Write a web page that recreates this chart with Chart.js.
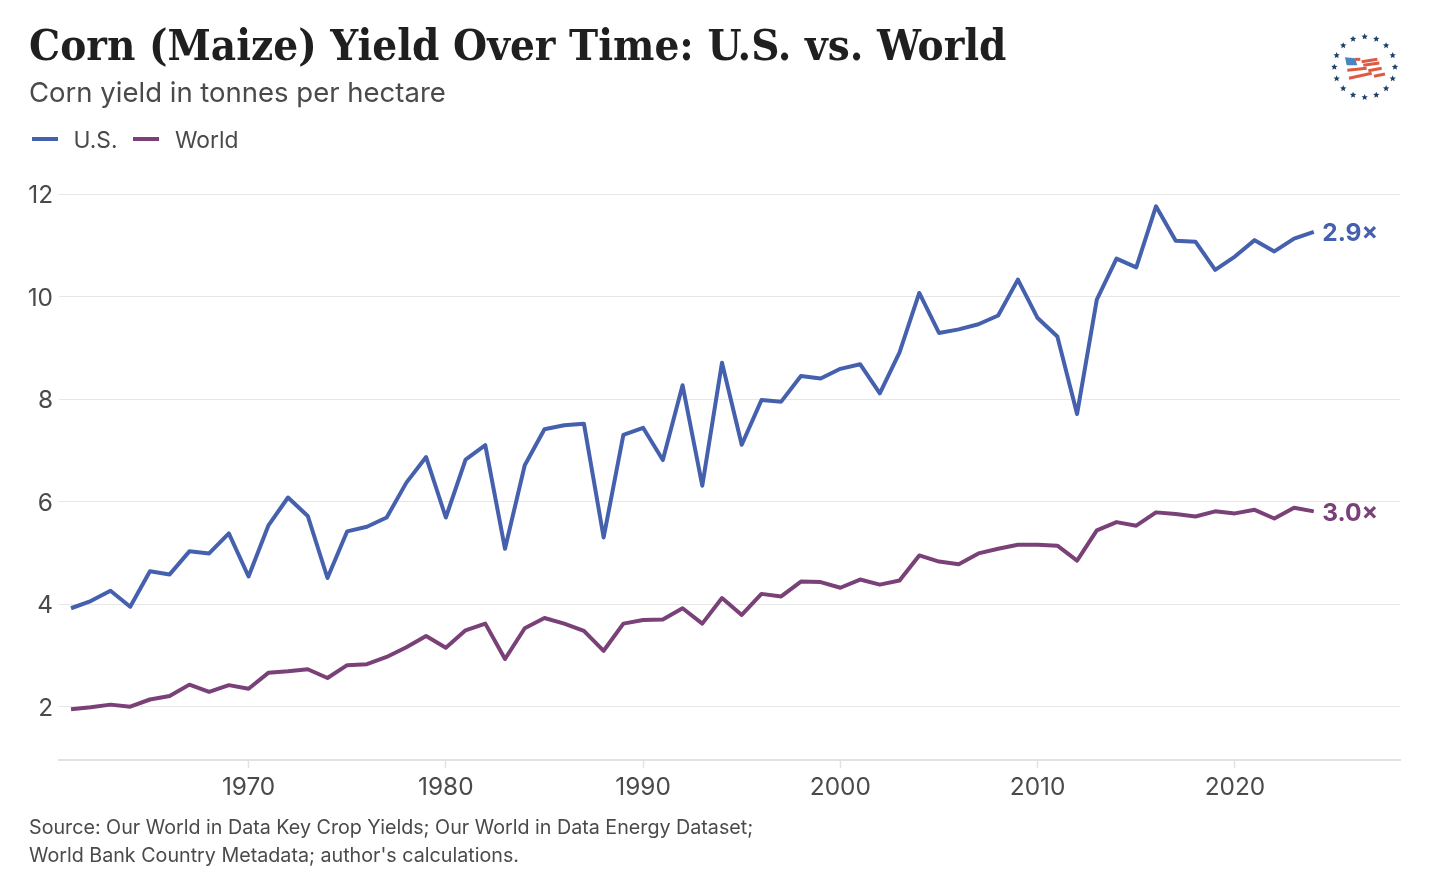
<!DOCTYPE html>
<html lang="en">
<head>
  <meta charset="UTF-8" />
  <title>Corn (Maize) Yield Over Time</title>
  <script src="https://cdn.jsdelivr.net/npm/chart.js"></script>
  <style>
    html, body { margin: 0; padding: 0; background: #fff; }
    body { width: 1429px; height: 885px; position: relative; overflow: hidden; font-family: Inter, sans-serif; color: #4a4a4a; }
    #chart { position: absolute; left: 0; top: 0; }
    .txt { position: absolute; white-space: nowrap; }
    #title { left: 29px; top: 18px; font: 700 43.5px/54px "DejaVu Serif Condensed", "DejaVu Serif", serif; font-stretch: condensed; color: #1f1f1f; }
    #subtitle { left: 29px; top: 75px; font-size: 27.5px; line-height: 35px; }
    #legend { left: 32px; top: 125.5px; font-size: 22.8px; line-height: 28px; display: flex; }
    #legend .item { display: flex; align-items: center; margin-right: 16px; }
    #legend .swatch { width: 26px; height: 4px; margin-right: 15.5px; position: relative; top: -1px; }
    #source { left: 29px; top: 813px; font-size: 19.7px; line-height: 28px; }
    #logo { position: absolute; left: 1300px; top: 20px; }
  </style>
</head>
<body>
  <canvas id="chart" width="1429" height="885"></canvas>
  <div class="txt" id="title">Corn (Maize) Yield Over Time: U.S. vs. World</div>
  <div class="txt" id="subtitle">Corn yield in tonnes per hectare</div>
  <div class="txt" id="legend"></div>
  <div class="txt" id="source">Source: Our World in Data Key Crop Yields; Our World in Data Energy Dataset;<br>World Bank Country Metadata; author's calculations.</div>
  <svg id="logo" width="129" height="100" viewBox="0 0 387 300">
    <polygon points="135,112 165,115 172,136 140,136" fill="#4a86bd"/>
    <g id="stripes" fill="none" stroke="#dd5a43" stroke-width="9">
      <polyline points="165,118 181,118"/>
      <polyline points="185,125 232,118"/>
      <polyline points="190,136 238,129"/>
      <polyline points="142,151 200,145"/>
      <polyline points="205,152 245,145"/>
      <polyline points="147,175 215,160"/>
      <polyline points="222,169 255,162"/>
    </g>
    <g id="stars" fill="#1c3f66"></g>
  </svg>

  <script>
    const years = [];
    for (let y = 1961; y <= 2024; y++) years.push(y);

    const usYield = [
      3.92, 4.06, 4.26, 3.95, 4.64, 4.58, 5.03, 4.99, 5.38, 4.54,
      5.53, 6.08, 5.72, 4.51, 5.42, 5.51, 5.69, 6.37, 6.87, 5.69,
      6.82, 7.10, 5.08, 6.71, 7.41, 7.49, 7.52, 5.30, 7.30, 7.44,
      6.81, 8.27, 6.31, 8.71, 7.11, 7.98, 7.95, 8.45, 8.40, 8.59,
      8.68, 8.11, 8.91, 10.07, 9.29, 9.36, 9.46, 9.63, 10.33, 9.58,
      9.22, 7.71, 9.94, 10.74, 10.57, 11.76, 11.09, 11.07, 10.52, 10.78,
      11.10, 10.88, 11.13, 11.26
    ];
    const worldYield = [
      1.95, 1.99, 2.04, 2.00, 2.14, 2.21, 2.43, 2.29, 2.42, 2.35,
      2.66, 2.69, 2.73, 2.56, 2.81, 2.83, 2.97, 3.16, 3.38, 3.15,
      3.49, 3.62, 2.93, 3.53, 3.73, 3.62, 3.48, 3.09, 3.62, 3.69,
      3.70, 3.92, 3.62, 4.12, 3.79, 4.20, 4.15, 4.44, 4.43, 4.32,
      4.48, 4.38, 4.46, 4.95, 4.83, 4.78, 4.99, 5.08, 5.16, 5.16,
      5.14, 4.85, 5.44, 5.60, 5.53, 5.79, 5.76, 5.71, 5.81, 5.77,
      5.84, 5.67, 5.88, 5.81
    ];

    const seriesNames = ["U.S.", "World"];
    const seriesColors = ["#4560ad", "#7a4178"];
    const endLabels = ["2.9×", "3.0×"];

    // legend row
    const legend = document.getElementById("legend");
    seriesNames.forEach((name, i) => {
      const item = document.createElement("div");
      item.className = "item";
      item.innerHTML = `<span class="swatch" style="background:${seriesColors[i]}"></span>${name}`;
      legend.appendChild(item);
    });

    // ring of stars around the flag
    const starGroup = document.getElementById("stars");
    for (let i = 0; i < 16; i++) {
      const a = i / 16 * Math.PI * 2;
      const cx = 194 + 91 * Math.sin(a), cy = 141 - 91 * Math.cos(a);
      let pts = "";
      for (let k = 0; k < 10; k++) {
        const r = k % 2 ? 4.5 : 10;
        const t = k / 10 * Math.PI * 2;
        pts += (cx + r * Math.sin(t)).toFixed(1) + "," + (cy - r * Math.cos(t)).toFixed(1) + " ";
      }
      const star = document.createElementNS("http://www.w3.org/2000/svg", "polygon");
      star.setAttribute("points", pts);
      starGroup.appendChild(star);
    }

    // multiplier written next to the last point of each line
    const endLabelPlugin = {
      id: "endLabels",
      afterDatasetsDraw(chart) {
        const ctx = chart.ctx;
        ctx.save();
        ctx.font = '700 24.5px Inter, sans-serif';
        ctx.textBaseline = "middle";
        chart.data.datasets.forEach((ds, i) => {
          const pts = chart.getDatasetMeta(i).data;
          const last = pts[pts.length - 1];
          ctx.fillStyle = seriesColors[i];
          ctx.fillText(endLabels[i], last.x + 8.5, last.y + 2);
        });
        ctx.restore();
      }
    };

    const tickFont = { family: "Inter, sans-serif", size: 24.4 };

    new Chart(document.getElementById("chart").getContext("2d"), {
      type: "line",
      data: {
        datasets: [usYield, worldYield].map((vals, i) => ({
          label: seriesNames[i],
          data: vals.map((v, j) => ({ x: years[j], y: v })),
          borderColor: seriesColors[i],
          borderWidth: 4,
          pointRadius: 0,
          tension: 0,
          borderJoinStyle: "round",
          clip: false
        }))
      },
      options: {
        responsive: false,
        animation: false,
        layout: { padding: { top: 194, right: 29, left: 0, bottom: 0 } },
        plugins: { legend: { display: false }, tooltip: { enabled: false } },
        scales: {
          x: {
            type: "linear",
            min: 1960.39,
            max: 2028.37,
            afterFit(scale) { scale.height = 125; },
            border: { color: "#e2e2e2", width: 2 },
            grid: { drawOnChartArea: false, drawTicks: true, tickLength: 8, color: "#e2e2e2", tickWidth: 1.5 },
            ticks: {
              stepSize: 10,
              includeBounds: false,
              maxRotation: 0,
              padding: 5,
              color: "#4a4a4a",
              font: tickFont,
              callback: v => String(v)
            }
          },
          y: {
            min: 0.96,
            max: 12,
            afterFit(scale) { scale.width = 59; },
            border: { display: false },
            grid: { color: "#e6e6e6", lineWidth: 1, drawTicks: false },
            ticks: {
              stepSize: 2,
              includeBounds: false,
              padding: 6,
              labelOffset: 2,
              color: "#4a4a4a",
              font: tickFont
            }
          }
        }
      },
      plugins: [endLabelPlugin]
    });
  </script>
</body>
</html>
